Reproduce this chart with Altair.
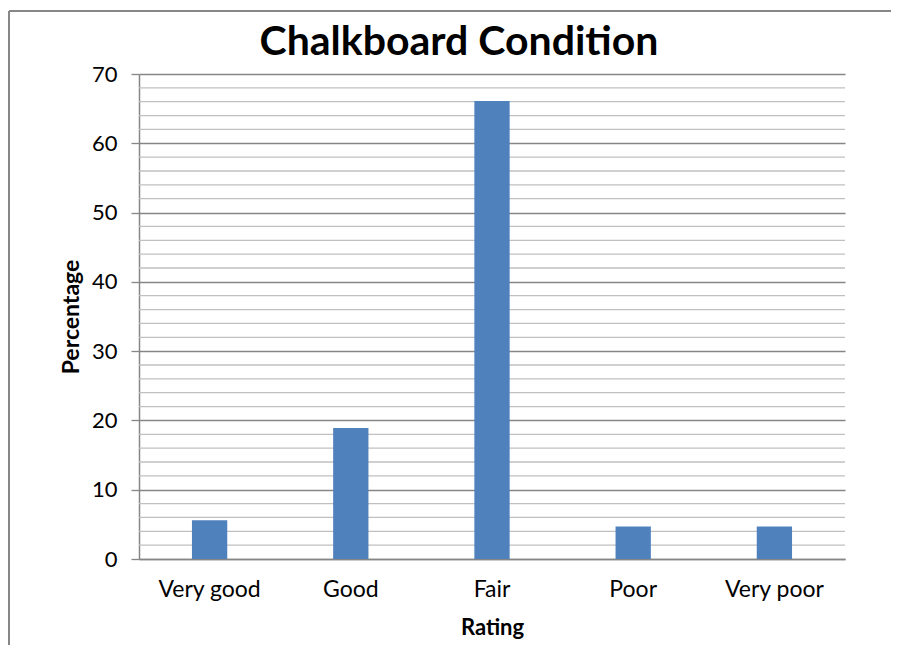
import altair as alt
import pandas as pd

categories = ["Very good", "Good", "Fair", "Poor", "Very poor"]
percentages = [5.6, 18.9, 66.1, 4.7, 4.7]
major_ticks = [0, 10, 20, 30, 40, 50, 60, 70]
minor_ticks = [v for v in range(0, 71, 2) if v % 10 != 0]

df = pd.DataFrame({"Rating": categories, "Percentage": percentages})
minor_df = pd.DataFrame({"Percentage": minor_ticks})

FONT = "Lato"

y_scale = alt.Scale(domain=[0, 70], nice=False, zero=True)
y_axis = alt.Axis(title="Percentage", values=major_ticks, tickSize=8,
                  tickColor="#868686", tickWidth=1.3,
                  labelFontSize=22, labelPadding=14, labelColor="#000000",
                  titleFontSize=23, titleFontWeight="bold", titlePadding=8,
                  titleColor="#000000",
                  grid=True, gridColor="#868686", gridWidth=1.3,
                  domainColor="#868686", domainWidth=1.5)

minor = alt.Chart(minor_df).mark_rule(color="#c0c0c0", strokeWidth=1.3).encode(
    y=alt.Y("Percentage:Q", scale=y_scale, axis=y_axis)
)

bars = alt.Chart(df).mark_bar(color="#4F81BD").encode(
    x=alt.X("Rating:N", sort=categories,
            scale=alt.Scale(paddingInner=0.75, paddingOuter=0.375),
            axis=alt.Axis(title="Rating", labelAngle=0, ticks=False,
                          labelFontSize=23, labelPadding=19, labelColor="#000000",
                          titleFontSize=22, titleFontWeight="bold", titlePadding=16,
                          titleColor="#000000",
                          domainColor="#868686", domainWidth=1.5)),
    y=alt.Y("Percentage:Q", scale=y_scale, axis=y_axis),
)

frame_top = alt.Chart(minor_df).mark_rule(color="#878787", strokeWidth=1.5).encode(
    x=alt.value(-130), x2=alt.value(760), y=alt.value(-63)
)
frame_left = alt.Chart(minor_df).mark_rule(color="#878787", strokeWidth=1.5).encode(
    x=alt.value(-130), y=alt.value(-63), y2=alt.value(580)
)

chart = alt.layer(minor, bars, frame_top, frame_left).properties(
    width=706,
    height=485,
    padding={"left": 131, "top": 66, "right": 46, "bottom": 86},
    autosize=alt.AutoSizeParams(type="none"),
    title=alt.TitleParams("Chalkboard Condition", fontSize=41, fontWeight="bold",
                          font=FONT, color="#000000", offset=12, dy=66, dx=-33,
                          anchor="middle"),
).configure(font=FONT).configure_axis(
    labelFont=FONT, titleFont=FONT
).configure_view(stroke=None)

chart.save("out.html", embed_options={"renderer": "svg", "actions": False})
